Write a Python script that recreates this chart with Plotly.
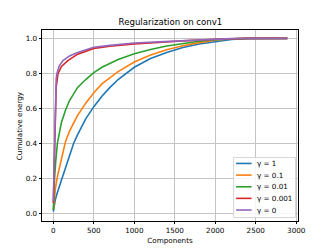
import plotly.graph_objects as go

title = "Regularization on conv1"
x_label = "Components"
y_label = "Cumulative energy"

names = ["γ = 1", "γ = 0.1", "γ = 0.01", "γ = 0.001", "γ = 0"]
colors = ["#1f77b4", "#ff7f0e", "#2ca02c", "#d62728", "#9467bd"]

x_blue = [0, 10, 25, 50, 100, 150, 200, 250, 300, 400, 500, 600, 700, 800, 1000, 1200, 1400, 1600, 1800, 2000, 2200, 2400, 2600, 2890]
y_blue = [0.01, 0.05, 0.08, 0.12, 0.19, 0.27, 0.34, 0.40, 0.45, 0.54, 0.61, 0.67, 0.72, 0.765, 0.835, 0.885, 0.92, 0.948, 0.968, 0.983, 0.994, 0.999, 1.0, 1.0]

x_orange = [0, 10, 25, 50, 100, 150, 200, 300, 400, 500, 600, 800, 1000, 1200, 1400, 1600, 1800, 2000, 2200, 2400, 2890]
y_orange = [0.02, 0.08, 0.14, 0.21, 0.32, 0.41, 0.47, 0.56, 0.63, 0.69, 0.74, 0.81, 0.865, 0.905, 0.935, 0.958, 0.976, 0.99, 0.998, 1.0, 1.0]

x_green = [0, 5, 15, 30, 50, 100, 150, 200, 300, 400, 500, 600, 800, 1000, 1200, 1400, 1600, 1800, 2000, 2200, 2400, 2890]
y_green = [0.02, 0.12, 0.2, 0.3, 0.4, 0.52, 0.59, 0.645, 0.72, 0.765, 0.805, 0.835, 0.88, 0.912, 0.937, 0.957, 0.972, 0.984, 0.993, 0.998, 1.0, 1.0]

x_red = [0, 5, 8, 16, 25, 35, 58, 100, 180, 300, 500, 700, 1000, 1300, 1600, 2000, 2200, 2400, 2890]
y_red = [0.06, 0.15, 0.2, 0.4, 0.6, 0.72, 0.8, 0.84, 0.873, 0.91, 0.943, 0.955, 0.968, 0.978, 0.986, 0.995, 0.999, 1.0, 1.0]

x_purple = [0, 5, 8, 16, 25, 35, 45, 70, 119, 200, 300, 500, 700, 1000, 1300, 1600, 2000, 2200, 2400, 2890]
y_purple = [0.07, 0.17, 0.24, 0.45, 0.66, 0.77, 0.8, 0.84, 0.873, 0.9, 0.92, 0.949, 0.96, 0.974, 0.98, 0.987, 0.995, 0.999, 1.0, 1.0]

xs = [x_blue, x_orange, x_green, x_red, x_purple]
ys = [y_blue, y_orange, y_green, y_red, y_purple]

x_ticks = [0, 500, 1000, 1500, 2000, 2500, 3000]
y_ticks = [0.0, 0.2, 0.4, 0.6, 0.8, 1.0]

FONT = "DejaVu Sans"
W, H = 332, 249
ML, MR, MT, MB = 42, 33.5, 29.5, 28
PW, PH = W - ML - MR, H - MT - MB


def px2paper(px, py):
    return (px - ML) / PW, (H - MB - py) / PH


fig = go.Figure()
for name, c, x, y in zip(names, colors, xs, ys):
    fig.add_trace(go.Scatter(x=x, y=y, mode="lines", name=name, showlegend=False,
                             line=dict(color=c, width=1.6)))

axis_common = dict(showline=True, mirror=True, linecolor="black", linewidth=0.8,
                   ticks="outside", ticklen=2.5, tickwidth=0.8, tickcolor="black",
                   showgrid=True, gridcolor="#c4c4c4", gridwidth=0.8, zeroline=False,
                   automargin=False,
                   tickfont=dict(family=FONT, size=7.2, color="black"))

# custom compact legend (matplotlib style)
shapes = []
annotations = []
bx0, by0 = px2paper(234, 217.5)
bx1, by1 = px2paper(296, 157.3)
shapes.append(dict(type="rect", xref="paper", yref="paper", x0=bx0, y0=by0, x1=bx1, y1=by1,
                   line=dict(color="#cccccc", width=0.8), fillcolor="rgba(255,255,255,0.85)",
                   layer="above"))
row_y = [163.3, 175, 186.7, 198.3, 210]
for name, c, ry in zip(names, colors, row_y):
    lx0, ly = px2paper(236.5, ry)
    lx1, _ = px2paper(252, ry)
    tx, _ = px2paper(255.5, ry)
    shapes.append(dict(type="line", xref="paper", yref="paper", x0=lx0, x1=lx1, y0=ly, y1=ly,
                       line=dict(color=c, width=1.6), layer="above"))
    annotations.append(dict(text=name, xref="paper", yref="paper", x=tx, y=ly,
                            xanchor="left", yanchor="middle", showarrow=False,
                            font=dict(family=FONT, size=7.2, color="black")))

# y-axis title placed as annotation to match position
ya_x, ya_y = px2paper(19.5, 125.5)
annotations.append(dict(text=y_label, xref="paper", yref="paper", x=ya_x, y=ya_y,
                        xanchor="center", yanchor="middle", textangle=-90, showarrow=False,
                        font=dict(family=FONT, size=7.2, color="black")))

fig.update_layout(
    width=W, height=H,
    margin=dict(l=ML, r=MR, t=MT, b=MB, pad=0, autoexpand=False),
    paper_bgcolor="white", plot_bgcolor="white",
    font=dict(family=FONT, size=7.2, color="black"),
    title=dict(text=title, x=0.5134, xanchor="center", y=1 - 22 / H, yanchor="middle",
               yref="container", automargin=False,
               font=dict(family=FONT, size=8.6, color="black")),
    xaxis=dict(range=[-140, 3022], tickvals=x_ticks, ticktext=[str(v) for v in x_ticks],
               title=dict(text=x_label, font=dict(family=FONT, size=7.2), standoff=3),
               **axis_common),
    yaxis=dict(range=[-0.043, 1.048], tickvals=y_ticks, ticktext=[f"{v:.1f}" for v in y_ticks],
               **axis_common),
    shapes=shapes,
    annotations=annotations,
    showlegend=False,
)

fig.write_html("out.html", config={"displayModeBar": False},
               post_script="document.body.style.margin='0';document.body.style.padding='0';")
